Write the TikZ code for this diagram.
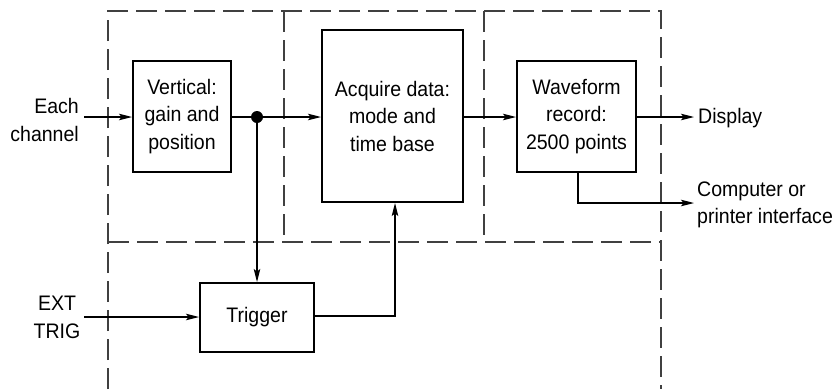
\documentclass[tikz,border=0pt]{standalone}
\usepackage{fontspec}
\setmainfont[FakeStretch=0.93]{Liberation Sans}
\usetikzlibrary{arrows.meta}
\begin{document}
\begin{tikzpicture}[x=1pt,y=-1pt,
  blk/.style={draw,line width=2pt,align=center,inner sep=0pt,font=\fontsize{21}{27.5}\selectfont},
  lbl/.style={inner sep=0pt,font=\fontsize{21}{27.5}\selectfont},
  arr/.style={line width=1.2pt,-{Stealth[length=13pt,width=6.5pt,inset=2.5pt]}},
  conn/.style={line width=1.2pt},
  frame/.style={line width=1.2pt,draw=black!75,dash pattern=on 21pt off 8pt}]
\useasboundingbox (0,0) rectangle (835,389);
% dashed frame
\draw[frame] (108,389) -- (108,11) -- (661,11) -- (661,389);
\draw[frame] (108,242) -- (661,242);
\draw[frame] (284,11) -- (284,242);
\draw[frame] (484,11) -- (484,242);
% blocks
\node[blk,minimum width=98pt,minimum height=111pt] (vert) at (182,116.5) {Vertical:\\gain and\\position};
\node[blk,minimum width=141pt,minimum height=172pt] (acq) at (392.5,116) {Acquire data:\\mode and\\time base};
\node[blk,minimum width=119pt,minimum height=111pt] (wave) at (576.5,116.5) {Waveform\\record:\\2500 points};
\node[blk,minimum width=114pt,minimum height=69pt] (trig) at (257,317.5) {Trigger};
\node[circle,fill,inner sep=0pt,minimum size=12pt] (dot) at (257,117) {};
% labels
\node[lbl,anchor=east,align=right] (each) at (79,120) {Each\\channel};
\coordinate (eachin) at (84,117);
\node[lbl,align=center] (ext) at (57,317.5) {EXT\\TRIG};
\coordinate (extin) at (84,317);
\node[lbl,anchor=west] (disp) at (698,118) {Display};
\coordinate (dispout) at (694,117);
\node[lbl,anchor=west,align=left] (comp) at (697,205) {Computer or\\printer interface};
\coordinate (compout) at (694,203);
% connectors
\draw[arr] (eachin) -- (eachin -| vert.west);
\draw[conn] (vert.east |- dot) -- (dot);
\draw[arr] (dot) -- (dot -| acq.west);
\draw[arr] (dot) -- (trig.north);
\draw[arr] (acq.east |- dispout) -- (wave.west |- dispout);
\draw[arr] (wave.east |- dispout) -- (dispout);
\draw[arr] ([xshift=1.5pt]wave.south) |- (compout);
\draw[arr] (extin) -- (extin -| trig.west);
\draw[arr] ([yshift=1.5pt]trig.east) -| ([xshift=2.5pt]acq.south);
\end{tikzpicture}
\end{document}
